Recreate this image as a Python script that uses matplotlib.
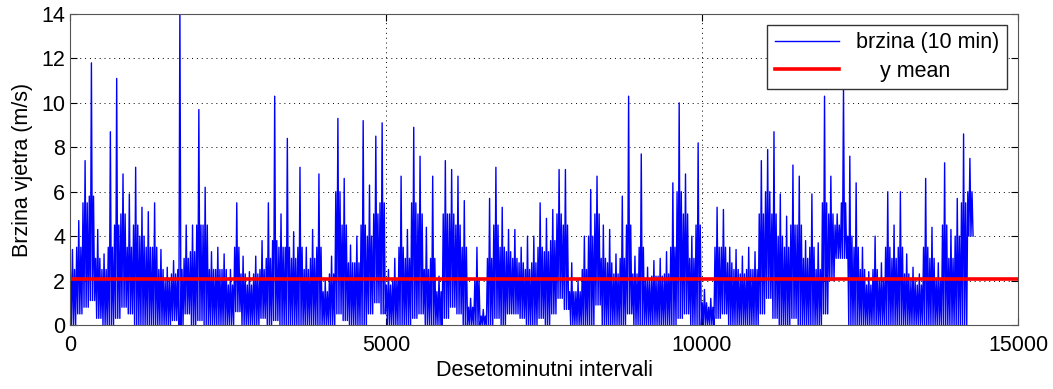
# plot.py
# brzina vjetra - desetominutni intervali
import numpy as np
import matplotlib
matplotlib.use("Agg")
import matplotlib.pyplot as plt

plt.rcParams['font.family'] = ['Liberation Sans', 'DejaVu Sans']

# for every block of 100 intervals:
# vrh = highest peak, sred = top of the dense part, dno = lowest value
vrh = [3.4, 4.7, 7.4, 11.8, 4.3, 3.2, 8.7, 11.1, 6.8, 5.9,
       7.1, 5.3, 5.1, 5.5, 3.4, 2.6, 2.9, 14.3, 4.5, 4.5,
       9.7, 6.2, 3.3, 3.5, 3.2, 2.5, 5.5, 3.1, 2.4, 3.1,
       3.8, 5.5, 10.3, 5.0, 8.4, 4.2, 7.1, 3.5, 4.3, 6.8,
       2.0, 3.1, 9.3, 6.6, 3.6, 4.0, 9.2, 6.3, 8.5, 9.1,
       2.5, 3.0, 6.7, 4.3, 8.9, 7.6, 4.4, 6.7, 2.2, 7.4,
       7.0, 6.7, 5.6, 1.2, 3.5, 0.7, 5.7, 7.1, 5.3, 4.3,
       4.3, 3.5, 4.0, 4.0, 5.5, 4.8, 5.2, 7.0, 7.0, 2.8,
       2.0, 4.0, 6.1, 6.7, 4.5, 4.3, 3.2, 5.8, 10.3, 3.1,
       7.7, 2.6, 2.9, 3.0, 3.3, 6.4, 10.0, 6.8, 4.0, 8.2,
       1.6, 1.2, 5.3, 5.2, 3.5, 3.4, 3.1, 3.5, 3.3, 7.4,
       7.9, 8.7, 5.9, 4.9, 7.2, 6.7, 3.8, 5.9, 3.7, 10.3,
       6.7, 5.0, 10.6, 7.6, 6.4, 3.5, 2.4, 4.0, 2.8, 6.0,
       4.5, 6.0, 3.2, 2.6, 2.3, 6.6, 4.4, 2.8, 7.3, 4.3,
       5.7, 8.6, 7.5]
sred = [2.5, 3.5, 5.5, 5.8, 3.0, 2.5, 3.5, 4.5, 5.0, 3.5,
        4.5, 4.0, 3.5, 3.5, 2.5, 2.0, 2.3, 2.5, 3.0, 3.3,
        4.5, 4.5, 2.5, 2.5, 2.5, 1.8, 3.5, 2.3, 1.8, 2.3,
        2.5, 3.0, 3.8, 3.5, 3.5, 3.0, 3.5, 2.5, 3.0, 3.5,
        1.5, 2.3, 6.0, 4.5, 2.8, 2.8, 4.5, 4.0, 5.0, 5.5,
        1.8, 2.0, 3.5, 3.0, 5.5, 5.0, 2.5, 3.0, 1.5, 5.0,
        5.0, 4.5, 3.5, 0.8, 2.0, 0.4, 3.0, 4.5, 3.5, 3.3,
        3.0, 2.8, 2.5, 2.8, 3.5, 3.3, 3.8, 5.0, 4.5, 1.5,
        1.5, 2.5, 4.0, 5.0, 3.0, 2.8, 2.3, 3.0, 4.5, 2.3,
        3.5, 2.0, 2.2, 2.2, 2.3, 3.5, 6.0, 5.0, 3.0, 4.5,
        1.0, 0.8, 3.5, 3.5, 2.8, 2.5, 2.3, 2.5, 2.5, 5.0,
        6.0, 5.0, 4.0, 3.5, 4.5, 4.5, 3.0, 3.5, 2.5, 5.5,
        5.0, 4.5, 5.5, 4.0, 3.5, 2.5, 1.8, 2.5, 2.0, 3.5,
        3.0, 3.5, 2.3, 2.0, 1.8, 3.5, 3.0, 2.0, 4.5, 3.0,
        4.0, 5.5, 6.0]
dno = [0, 0.5, 0.8, 1.1, 0.3, 0, 0, 0.3, 0.8, 0.5,
       0, 0, 0, 0, 0, 0, 0.2, 0, 0.5, 0,
       0.2, 0, 0, 0, 0, 0, 0.6, 0, 0, 0,
       0.3, 0, 0.2, 0, 0, 0, 0, 0, 0, 0,
       0, 0, 0.5, 0.2, 0, 0, 0, 0.5, 1.0, 0.5,
       0, 0, 0, 0, 0.3, 0.5, 0, 0, 0, 0.3,
       0.8, 0.5, 0, 0, 0, 0, 0, 0.3, 0, 0.5,
       0.5, 0.3, 0, 0, 0.3, 0, 0.5, 1.2, 0.7, 0,
       0, 0, 0, 0.9, 0, 0, 0, 0, 0.5, 0,
       0, 0, 0, 0, 0, 0, 0.3, 0.5, 0, 0,
       0, 0, 0.3, 0.5, 0, 0, 0, 0, 0, 0.5,
       1.2, 0.3, 0, 0, 0.3, 0, 0, 0, 0, 0.5,
       2.0, 3.0, 3.0, 0, 0, 0, 0, 0, 0, 0,
       0, 0, 0, 0, 0, 0, 0, 0, 0, 0,
       0, 0, 4.0]
y_mean = 2.08
x_max = 15000

# each block of 100 intervals: dense part, trough, peak, trough, dense part, trough
n = len(vrh)
brzina = np.empty(6 * n)
brzina[0::6] = sred
brzina[1::6] = dno
brzina[2::6] = vrh
brzina[3::6] = dno
brzina[4::6] = sred
brzina[5::6] = dno
x = np.arange(6 * n) * (100 / 6) + 5

fig = plt.figure(figsize=(10.53, 3.89), dpi=100)
ax = fig.add_axes([0.0665, 0.1645, 0.9003, 0.7995])

ax.plot(x, brzina, color='blue', lw=1.0, label='brzina (10 min)')
ax.plot([0, x_max], [y_mean, y_mean], color='red', lw=2.6,
        label='\u00a0\u00a0\u00a0\u00a0y mean')

ax.set_xlim(0, x_max)
ax.set_ylim(0, 14)
ax.set_xticks([0, 5000, 10000, 15000])
ax.set_yticks(range(0, 15, 2))
ax.grid(True, color='black', linestyle=(0, (1, 4)), lw=0.7)
ax.tick_params(direction='in', top=True, right=True, length=5, labelsize=15.5)
ax.tick_params(axis='x', pad=7)
for s in ax.spines.values():
    s.set_color('#555555')

ax.set_xlabel('Desetominutni intervali', fontsize=15.5, labelpad=3)
ax.set_ylabel('Brzina vjetra (m/s)', fontsize=15.5, labelpad=6)

leg = ax.legend(loc='upper right', fontsize=15.5, fancybox=False, framealpha=1,
                edgecolor='#333333', handlelength=3.0, borderaxespad=0.5,
                borderpad=0.35, labelspacing=0.35)
leg.get_frame().set_linewidth(1.0)

plt.savefig('out.png', dpi=100)
